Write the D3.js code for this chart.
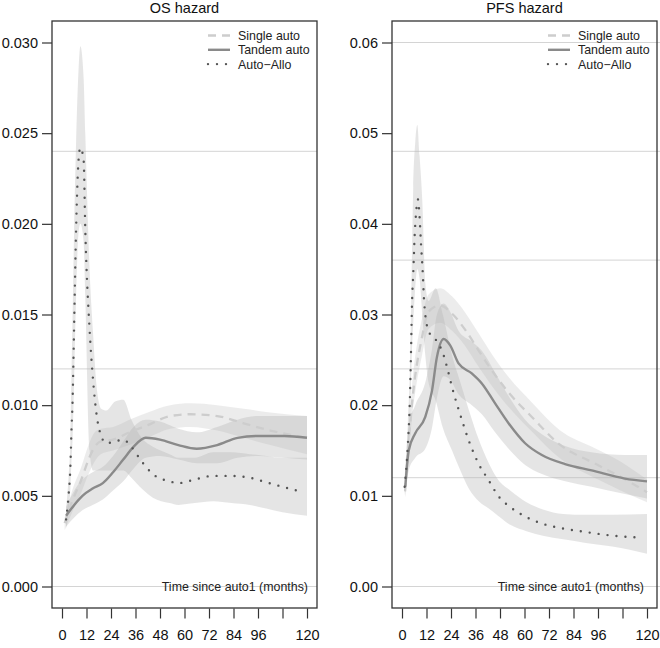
<!DOCTYPE html>
<html>
<head>
<meta charset="utf-8">
<script src="https://cdn.jsdelivr.net/npm/d3@7/dist/d3.min.js"></script>
<style>
  html, body { margin: 0; padding: 0; background: #fff; }
  svg { display: block; font-family: "Liberation Sans", Arial, Helvetica, sans-serif; }
</style>
</head>
<body>
<div id="chart"></div>
<script>
// ---- data ----
const xTicks = [0, 12, 24, 36, 48, 60, 72, 84, 96, 108, 120];
const xTickLabels = ['0', '12', '24', '36', '48', '60', '72', '84', '96', '', '120'];

const osYTicks = [0, 0.005, 0.010, 0.015, 0.020, 0.025, 0.030];
const osYLabels = ['0.000', '0.005', '0.010', '0.015', '0.020', '0.025', '0.030'];
const pfsYTicks = [0, 0.01, 0.02, 0.03, 0.04, 0.05, 0.06];
const pfsYLabels = ['0.00', '0.01', '0.02', '0.03', '0.04', '0.05', '0.06'];

const osGrid = [0, 0.012, 0.024];
const pfsGrid = [0, 0.012, 0.024, 0.036, 0.048, 0.060];

const seriesNames = ['Single auto', 'Tandem auto', 'Auto\u2212Allo'];

// OS hazard
const osSingleT  = [1.3, 5, 9.5, 13, 16, 19, 25, 33, 42, 53, 63, 76, 89, 102, 120];
const osSingleV  = [0.0035, 0.0047, 0.0059, 0.0070, 0.0077, 0.0080, 0.0081, 0.0085, 0.0089, 0.0094, 0.0095, 0.0094, 0.0090, 0.0086, 0.0082];
const osSingleLo = [0.0031, 0.0041, 0.0052, 0.0062, 0.0069, 0.0073, 0.0075, 0.0078, 0.0082, 0.0087, 0.0088, 0.0086, 0.0082, 0.0078, 0.0073];
const osSingleHi = [0.0038, 0.0053, 0.0066, 0.0078, 0.0085, 0.0087, 0.0088, 0.0092, 0.0096, 0.0100, 0.0101, 0.0100, 0.0098, 0.0096, 0.0094];

const osTandemT  = [2, 6, 10, 15, 20, 25, 30, 35, 41, 48, 57, 66, 76, 86, 96, 109, 120];
const osTandemV  = [0.0039, 0.0045, 0.0050, 0.0054, 0.0057, 0.0063, 0.0070, 0.0077, 0.0082, 0.0081, 0.0078, 0.0076, 0.0078, 0.0082, 0.0083, 0.0083, 0.0082];
const osTandemLo = [0.0033, 0.0038, 0.0042, 0.0045, 0.0048, 0.0053, 0.0058, 0.0065, 0.0071, 0.0072, 0.0070, 0.0068, 0.0068, 0.0071, 0.0072, 0.0071, 0.0070];
const osTandemHi = [0.0044, 0.0053, 0.0059, 0.0063, 0.0066, 0.0072, 0.0080, 0.0088, 0.0092, 0.0091, 0.0087, 0.0085, 0.0088, 0.0092, 0.0094, 0.0094, 0.0094];

const osAlloT  = [2, 3.2, 4.1, 4.6, 5.2, 5.9, 6.9, 8.1, 9, 10.6, 11.4, 13.5, 15.2, 16.8, 19.2, 21.7, 26, 30, 34, 39, 44.5, 52.7, 57, 65, 74, 83, 92, 100, 108, 118];
const osAlloV  = [0.0037, 0.0050, 0.0066, 0.0085, 0.0103, 0.0142, 0.0197, 0.0235, 0.0242, 0.0235, 0.0197, 0.0142, 0.0114, 0.0096, 0.0083, 0.0079, 0.0080, 0.0081, 0.0077, 0.0069, 0.0062, 0.0058, 0.0057, 0.0059, 0.0061, 0.0061, 0.0060, 0.00575, 0.0055, 0.0052];
const osAlloBandT = [2, 3.2, 4.1, 4.6, 5.2, 5.9, 6.9, 8.1, 9, 10.6, 11.4, 13.5, 15.2, 16.8, 19.2, 21.7, 26, 30, 34, 39, 44.5, 52.7, 57, 65, 74, 83, 92, 100, 108, 120];
const osAlloLo = [0.0032, 0.0042, 0.0054, 0.0068, 0.0082, 0.0112, 0.0160, 0.0195, 0.0200, 0.0190, 0.0160, 0.0075, 0.0064, 0.0064, 0.0064, 0.0064, 0.0064, 0.0064, 0.0060, 0.0054, 0.0049, 0.0046, 0.0045, 0.0046, 0.0047, 0.0046, 0.0045, 0.0043, 0.0041, 0.0039];
const osAlloHi = [0.0043, 0.0060, 0.0080, 0.0115, 0.0150, 0.0195, 0.0245, 0.0285, 0.0298, 0.0280, 0.0250, 0.0175, 0.0140, 0.0112, 0.0098, 0.0097, 0.0102, 0.0103, 0.0092, 0.0082, 0.0077, 0.0073, 0.0071, 0.0071, 0.0074, 0.0074, 0.0073, 0.0072, 0.0071, 0.0071];

// PFS hazard
const pfsSingleT  = [1.5, 4.9, 9.8, 13, 18.7, 24.5, 31, 37.6, 44.1, 52.2, 63.6, 77, 95, 107, 120];
const pfsSingleV  = [0.0105, 0.0202, 0.0275, 0.0303, 0.0310, 0.0301, 0.0283, 0.0260, 0.0238, 0.0214, 0.0187, 0.0157, 0.0135, 0.0121, 0.0104];
const pfsSingleLo = [0.0099, 0.0185, 0.0255, 0.0284, 0.0291, 0.0282, 0.0265, 0.0242, 0.0221, 0.0198, 0.0171, 0.0142, 0.0119, 0.0106, 0.0093];
const pfsSingleHi = [0.0112, 0.0220, 0.0296, 0.0322, 0.0329, 0.0320, 0.0302, 0.0279, 0.0256, 0.0231, 0.0203, 0.0173, 0.0152, 0.0138, 0.0118];

const pfsTandemT  = [1.6, 3.3, 6.5, 11.4, 14.7, 17.1, 20.4, 23.6, 27.7, 34.2, 39.1, 45.6, 52.2, 60.3, 68.5, 79.9, 92.9, 109.2, 120];
const pfsTandemV  = [0.0110, 0.0150, 0.0169, 0.0187, 0.0216, 0.0253, 0.0273, 0.0266, 0.0246, 0.0235, 0.0224, 0.0202, 0.0180, 0.0158, 0.0145, 0.0135, 0.0128, 0.0119, 0.0116];
const pfsTandemLo = [0.0098, 0.0128, 0.0142, 0.0152, 0.0175, 0.0208, 0.0232, 0.0228, 0.0212, 0.0200, 0.0190, 0.0170, 0.0152, 0.0134, 0.0124, 0.0116, 0.0110, 0.0102, 0.0097];
const pfsTandemHi = [0.0123, 0.0178, 0.0200, 0.0225, 0.0262, 0.0300, 0.0312, 0.0303, 0.0282, 0.0270, 0.0260, 0.0236, 0.0210, 0.0184, 0.0168, 0.0155, 0.0148, 0.0145, 0.0145];

const pfsAlloT  = [1.3, 2.9, 3.8, 4.4, 4.9, 5.5, 6.2, 6.9, 7.8, 8.6, 9.3, 10.1, 10.9, 13.1, 16.3, 20.4, 22.5, 24.5, 28.6, 32.7, 37.6, 42.5, 47.1, 52.8, 61, 69.1, 78.9, 90.3, 103.3, 117.2];
const pfsAlloV  = [0.0110, 0.0158, 0.0202, 0.0257, 0.0312, 0.0345, 0.0387, 0.0412, 0.0427, 0.0408, 0.0378, 0.0349, 0.0312, 0.0281, 0.0273, 0.0255, 0.0238, 0.0220, 0.0189, 0.0161, 0.0135, 0.0117, 0.0100, 0.0088, 0.00765, 0.0069, 0.0064, 0.0060, 0.0056, 0.0054];
const pfsAlloBandT = [1.3, 2.9, 3.8, 4.4, 4.9, 5.5, 6.5, 7.5, 8.6, 9.9, 11.4, 13, 16.5, 20, 24.5, 28.6, 32.7, 37.6, 42.5, 47, 53, 61, 69, 79, 90, 103, 120];
const pfsAlloLo = [0.0100, 0.0140, 0.0178, 0.0220, 0.0262, 0.0290, 0.0330, 0.0350, 0.0340, 0.0300, 0.0255, 0.0225, 0.0205, 0.0175, 0.0150, 0.0128, 0.0108, 0.0094, 0.0086, 0.0078, 0.0068, 0.0061, 0.0056, 0.0052, 0.0048, 0.0044, 0.0036];
const pfsAlloHi = [0.0120, 0.0182, 0.0235, 0.0300, 0.0370, 0.0440, 0.0490, 0.0509, 0.0475, 0.0427, 0.0335, 0.0315, 0.0329, 0.0300, 0.0255, 0.0225, 0.0195, 0.0162, 0.0136, 0.0118, 0.0106, 0.0093, 0.0085, 0.0080, 0.0079, 0.0079, 0.0080];

// ---- build panel tables ----
const zip = (t, v) => t.map((d, i) => ({ t: d, v: v[i] }));
const zipBand = (t, lo, hi) => t.map((d, i) => ({ t: d, lo: lo[i], hi: hi[i] }));

const styles = [
  { stroke: '#cdcdcd', dash: '8,6', cap: 'butt', width: 2.3, band: 0.26 },
  { stroke: '#8a8a8a', dash: null, cap: 'butt', width: 2.4, band: 0.34 },
  { stroke: '#555555', dash: '0,9', cap: 'round', width: 2.4, band: 0.34 }
];

const panels = [
  {
    title: 'OS hazard', left: 52, right: 317, xr: [62, 307],
    yMax: 0.030, yTicks: osYTicks, yLabels: osYLabels, grid: osGrid, gridRight: 317,
    timeInset: 9,
    series: [
      { line: zip(osSingleT, osSingleV), band: zipBand(osSingleT, osSingleLo, osSingleHi) },
      { line: zip(osTandemT, osTandemV), band: zipBand(osTandemT, osTandemLo, osTandemHi) },
      { line: zip(osAlloT, osAlloV), band: zipBand(osAlloBandT, osAlloLo, osAlloHi) }
    ]
  },
  {
    title: 'PFS hazard', left: 392, right: 657, xr: [402, 647],
    yMax: 0.06, yTicks: pfsYTicks, yLabels: pfsYLabels, grid: pfsGrid, gridRight: 660,
    timeInset: 13,
    series: [
      { line: zip(pfsSingleT, pfsSingleV), band: zipBand(pfsSingleT, pfsSingleLo, pfsSingleHi) },
      { line: zip(pfsTandemT, pfsTandemV), band: zipBand(pfsTandemT, pfsTandemLo, pfsTandemHi) },
      { line: zip(pfsAlloT, pfsAlloV), band: zipBand(pfsAlloBandT, pfsAlloLo, pfsAlloHi) }
    ]
  }
];

// ---- draw ----
const W = 660, H = 648;
const boxTop = 21, boxBottom = 608;
const y0px = 586.5, yTopPx = 42.5;

const svg = d3.select('#chart').append('svg')
  .attr('width', W).attr('height', H);

panels.forEach((p, pi) => {
  const x = d3.scaleLinear().domain([0, 120]).range(p.xr);
  const y = d3.scaleLinear().domain([0, p.yMax]).range([y0px, yTopPx]);

  const clipId = 'clip' + pi;
  svg.append('clipPath').attr('id', clipId)
    .append('rect')
    .attr('x', p.left).attr('y', boxTop)
    .attr('width', p.right - p.left).attr('height', boxBottom - boxTop);

  // reference lines
  svg.append('g').selectAll('line').data(p.grid).join('line')
    .attr('x1', p.left).attr('x2', p.gridRight)
    .attr('y1', d => y(d)).attr('y2', d => y(d))
    .attr('stroke', '#d4d4d4').attr('stroke-width', 1);

  const plot = svg.append('g').attr('clip-path', `url(#${clipId})`);

  const area = d3.area()
    .x(d => x(d.t)).y0(d => y(d.lo)).y1(d => y(d.hi))
    .curve(d3.curveMonotoneX);
  const line = d3.line()
    .x(d => x(d.t)).y(d => y(d.v))
    .curve(d3.curveMonotoneX);

  p.series.forEach((s, i) => {
    plot.append('path')
      .attr('d', area(s.band))
      .attr('fill', '#b4b4b4')
      .attr('fill-opacity', styles[i].band);
  });

  p.series.forEach((s, i) => {
    const st = styles[i];
    plot.append('path')
      .attr('d', line(s.line))
      .attr('fill', 'none')
      .attr('stroke', st.stroke)
      .attr('stroke-width', st.width)
      .attr('stroke-linecap', st.cap)
      .attr('stroke-dasharray', st.dash);
  });

  // box
  svg.append('rect')
    .attr('x', p.left).attr('y', boxTop)
    .attr('width', p.right - p.left).attr('height', boxBottom - boxTop)
    .attr('fill', 'none').attr('stroke', '#333').attr('stroke-width', 1.3);

  // axes
  const xAxis = svg.append('g')
    .attr('transform', `translate(0,${boxBottom + 0.5})`)
    .call(d3.axisBottom(x).tickValues(xTicks)
      .tickFormat((d, i) => xTickLabels[i])
      .tickSize(10).tickSizeOuter(0).tickPadding(11));
  xAxis.select('.domain').remove();

  const yAxis = svg.append('g')
    .attr('transform', `translate(${p.left},0)`)
    .call(d3.axisLeft(y).tickValues(p.yTicks)
      .tickFormat((d, i) => p.yLabels[i])
      .tickSize(10).tickSizeOuter(0).tickPadding(4));
  yAxis.select('.domain').remove();

  [xAxis, yAxis].forEach(a => {
    a.selectAll('line').attr('stroke', '#333').attr('stroke-width', 1.2);
    a.selectAll('text').attr('fill', '#111')
      .attr('font-size', 14.5)
      .attr('font-family', '"Liberation Sans", Arial, Helvetica, sans-serif');
  });

  // title
  svg.append('text')
    .attr('x', (p.left + p.right) / 2).attr('y', 13)
    .attr('text-anchor', 'middle')
    .attr('font-size', 14.5).attr('fill', '#111')
    .text(p.title);

  // x label inside the box
  svg.append('text')
    .attr('x', p.right - p.timeInset).attr('y', y0px + 4.5)
    .attr('text-anchor', 'end')
    .attr('font-size', 12.4).attr('fill', '#222')
    .text('Time since auto1 (months)');

  // legend
  const lg = svg.append('g')
    .attr('transform', `translate(${p.right - 109},0)`);
  seriesNames.forEach((name, i) => {
    const st = styles[i];
    const ly = 35.5 + i * 14.3;
    lg.append('line')
      .attr('x1', 0).attr('x2', 22)
      .attr('y1', ly).attr('y2', ly)
      .attr('stroke', st.stroke)
      .attr('stroke-width', st.width)
      .attr('stroke-linecap', st.cap)
      .attr('stroke-dasharray', st.dash);
    lg.append('text')
      .attr('x', 30).attr('y', ly + 4.4)
      .attr('font-size', 12.4).attr('fill', '#222')
      .text(name);
  });
});
</script>
</body>
</html>
